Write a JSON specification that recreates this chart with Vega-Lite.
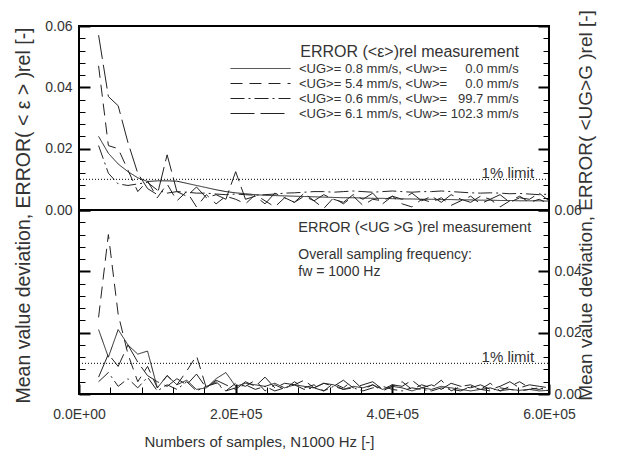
{
  "$schema": "https://vega.github.io/schema/vega-lite/v6.json",
  "padding": {"left": 12, "top": 8, "right": 5, "bottom": 5},
  "background": "white",
  "config": {
    "font": "Liberation Sans",
    "view": {"stroke": "#000", "strokeWidth": 2},
    "axis": {"grid": false, "domain": false, "labelColor": "#333", "titleColor": "#333", "labelFont": "Liberation Sans", "titleFont": "Liberation Sans", "titleFontWeight": "normal", "labelFontSize": 14, "titleFontSize": 19.5, "tickColor": "#000"},
    "text": {"font": "Liberation Sans", "color": "#333"}
  },
  "datasets": {
    "eps": [
      {"n": 25000, "a": 0.024, "b": 0.047, "c": 0.021, "d": 0.057},
      {"n": 37500, "a": 0.0185, "b": 0.021, "c": 0.012, "d": 0.037},
      {"n": 50000, "a": 0.015, "b": 0.02, "c": 0.0085, "d": 0.034},
      {"n": 62500, "a": 0.0125, "b": 0.013, "c": 0.008, "d": 0.022},
      {"n": 75000, "a": 0.0105, "b": 0.006, "c": 0.0085, "d": 0.012},
      {"n": 87500, "a": 0.0093, "b": 0.0095, "c": 0.009, "d": 0.007},
      {"n": 100000, "a": 0.0095, "b": 0.004, "c": 0.0065, "d": 0.005},
      {"n": 112500, "a": 0.0095, "b": 0.0085, "c": 0.0055, "d": 0.018},
      {"n": 125000, "a": 0.0094, "b": 0.003, "c": 0.006, "d": 0.006},
      {"n": 137500, "a": 0.0087, "b": 0.006, "c": 0.0058, "d": 0.0045},
      {"n": 150000, "a": 0.008, "b": 0.001, "c": 0.0055, "d": 0.0075},
      {"n": 162500, "a": 0.0073, "b": 0.005, "c": 0.0055, "d": 0.004},
      {"n": 175000, "a": 0.0066, "b": 0.002, "c": 0.0052, "d": 0.005},
      {"n": 187500, "a": 0.006, "b": 0.0045, "c": 0.005, "d": 0.0035},
      {"n": 200000, "a": 0.0056, "b": 0.0035, "c": 0.0052, "d": 0.0125},
      {"n": 212500, "a": 0.0053, "b": 0.002, "c": 0.005, "d": 0.0035},
      {"n": 225000, "a": 0.005, "b": 0.005, "c": 0.0048, "d": 0.0045},
      {"n": 237500, "a": 0.0048, "b": 0.003, "c": 0.005, "d": 0.002},
      {"n": 250000, "a": 0.0047, "b": 0.001, "c": 0.0052, "d": 0.0055},
      {"n": 262500, "a": 0.0046, "b": 0.004, "c": 0.0055, "d": 0.004},
      {"n": 275000, "a": 0.0045, "b": 0.0025, "c": 0.0056, "d": 0.0025},
      {"n": 287500, "a": 0.0044, "b": 0.0045, "c": 0.0058, "d": 0.0055},
      {"n": 300000, "a": 0.0043, "b": 0.003, "c": 0.006, "d": 0.003},
      {"n": 312500, "a": 0.0042, "b": 0.0005, "c": 0.006, "d": 0.005},
      {"n": 325000, "a": 0.0041, "b": 0.004, "c": 0.0058, "d": 0.0035},
      {"n": 337500, "a": 0.004, "b": 0.002, "c": 0.006, "d": 0.0025},
      {"n": 350000, "a": 0.004, "b": 0.0045, "c": 0.0062, "d": 0.005},
      {"n": 362500, "a": 0.0039, "b": 0.0015, "c": 0.006, "d": 0.0035},
      {"n": 375000, "a": 0.0038, "b": 0.0035, "c": 0.0058, "d": 0.0055},
      {"n": 387500, "a": 0.0038, "b": 0.003, "c": 0.006, "d": 0.002},
      {"n": 400000, "a": 0.0037, "b": 0.0045, "c": 0.0062, "d": 0.0045},
      {"n": 412500, "a": 0.0036, "b": 0.002, "c": 0.006, "d": 0.0035},
      {"n": 425000, "a": 0.0036, "b": 0.001, "c": 0.0058, "d": 0.0055},
      {"n": 437500, "a": 0.0035, "b": 0.0035, "c": 0.006, "d": 0.003},
      {"n": 450000, "a": 0.0035, "b": 0.0025, "c": 0.006, "d": 0.0045},
      {"n": 462500, "a": 0.0034, "b": 0.004, "c": 0.0062, "d": 0.0025},
      {"n": 475000, "a": 0.0034, "b": 0.0015, "c": 0.006, "d": 0.005},
      {"n": 487500, "a": 0.0033, "b": 0.003, "c": 0.0058, "d": 0.0035},
      {"n": 500000, "a": 0.0033, "b": 0.0045, "c": 0.0056, "d": 0.0025},
      {"n": 512500, "a": 0.0032, "b": 0.002, "c": 0.0055, "d": 0.0045},
      {"n": 525000, "a": 0.0032, "b": 0.0035, "c": 0.0056, "d": 0.0035},
      {"n": 537500, "a": 0.0031, "b": 0.001, "c": 0.0055, "d": 0.005},
      {"n": 550000, "a": 0.0031, "b": 0.003, "c": 0.0053, "d": 0.0025},
      {"n": 562500, "a": 0.003, "b": 0.0045, "c": 0.0054, "d": 0.004},
      {"n": 575000, "a": 0.003, "b": 0.0025, "c": 0.0052, "d": 0.0035},
      {"n": 587500, "a": 0.003, "b": 0.0035, "c": 0.005, "d": 0.0055},
      {"n": 600000, "a": 0.0029, "b": 0.002, "c": 0.0052, "d": 0.003}
    ],
    "ug": [
      {"n": 25000, "a": 0.021, "b": 0.025, "c": 0.004, "d": 0.0055},
      {"n": 37500, "a": 0.012, "b": 0.052, "c": 0.007, "d": 0.013},
      {"n": 50000, "a": 0.021, "b": 0.026, "c": 0.0025, "d": 0.009},
      {"n": 62500, "a": 0.016, "b": 0.013, "c": 0.005, "d": 0.016},
      {"n": 75000, "a": 0.013, "b": 0.004, "c": 0.002, "d": 0.0104},
      {"n": 87500, "a": 0.014, "b": 0.009, "c": 0.0055, "d": 0.006},
      {"n": 100000, "a": 0.002, "b": 0.002, "c": 0.001, "d": 0.004},
      {"n": 112500, "a": 0.006, "b": 0.006, "c": 0.003, "d": 0.0025},
      {"n": 125000, "a": 0.003, "b": 0.003, "c": 0.0015, "d": 0.005},
      {"n": 137500, "a": 0.0045, "b": 0.0075, "c": 0.004, "d": 0.003},
      {"n": 150000, "a": 0.0015, "b": 0.0125, "c": 0.001, "d": 0.0065},
      {"n": 162500, "a": 0.002, "b": 0.002, "c": 0.0025, "d": 0.002},
      {"n": 175000, "a": 0.005, "b": 0.004, "c": 0.0035, "d": 0.0045},
      {"n": 187500, "a": 0.007, "b": 0.001, "c": 0.001, "d": 0.003},
      {"n": 200000, "a": 0.0025, "b": 0.0035, "c": 0.002, "d": 0.0015},
      {"n": 212500, "a": 0.0035, "b": 0.0025, "c": 0.003, "d": 0.004},
      {"n": 225000, "a": 0.003, "b": 0.0045, "c": 0.0015, "d": 0.0025},
      {"n": 237500, "a": 0.0025, "b": 0.001, "c": 0.0025, "d": 0.0055},
      {"n": 250000, "a": 0.0035, "b": 0.003, "c": 0.001, "d": 0.002},
      {"n": 262500, "a": 0.002, "b": 0.0015, "c": 0.002, "d": 0.0035},
      {"n": 275000, "a": 0.003, "b": 0.004, "c": 0.003, "d": 0.003},
      {"n": 287500, "a": 0.0025, "b": 0.002, "c": 0.0015, "d": 0.0045},
      {"n": 300000, "a": 0.002, "b": 0.003, "c": 0.002, "d": 0.002},
      {"n": 312500, "a": 0.0035, "b": 0.001, "c": 0.001, "d": 0.0035},
      {"n": 325000, "a": 0.003, "b": 0.0035, "c": 0.0025, "d": 0.0025},
      {"n": 337500, "a": 0.0015, "b": 0.002, "c": 0.0015, "d": 0.0045},
      {"n": 350000, "a": 0.0025, "b": 0.0045, "c": 0.002, "d": 0.002},
      {"n": 362500, "a": 0.002, "b": 0.0015, "c": 0.001, "d": 0.003},
      {"n": 375000, "a": 0.003, "b": 0.003, "c": 0.002, "d": 0.004},
      {"n": 387500, "a": 0.0015, "b": 0.001, "c": 0.0025, "d": 0.0015},
      {"n": 400000, "a": 0.0025, "b": 0.0025, "c": 0.0015, "d": 0.003},
      {"n": 412500, "a": 0.002, "b": 0.004, "c": 0.001, "d": 0.0025},
      {"n": 425000, "a": 0.001, "b": 0.0015, "c": 0.002, "d": 0.0045},
      {"n": 437500, "a": 0.002, "b": 0.003, "c": 0.0015, "d": 0.002},
      {"n": 450000, "a": 0.0015, "b": 0.002, "c": 0.001, "d": 0.003},
      {"n": 462500, "a": 0.0025, "b": 0.0045, "c": 0.002, "d": 0.0015},
      {"n": 475000, "a": 0.002, "b": 0.001, "c": 0.0015, "d": 0.0035},
      {"n": 487500, "a": 0.0015, "b": 0.0025, "c": 0.001, "d": 0.0025},
      {"n": 500000, "a": 0.001, "b": 0.003, "c": 0.0025, "d": 0.002},
      {"n": 512500, "a": 0.0015, "b": 0.0015, "c": 0.0015, "d": 0.003},
      {"n": 525000, "a": 0.002, "b": 0.0035, "c": 0.001, "d": 0.0015},
      {"n": 537500, "a": 0.001, "b": 0.001, "c": 0.002, "d": 0.0025},
      {"n": 550000, "a": 0.0015, "b": 0.0025, "c": 0.0015, "d": 0.004},
      {"n": 562500, "a": 0.0012, "b": 0.004, "c": 0.001, "d": 0.002},
      {"n": 575000, "a": 0.0015, "b": 0.002, "c": 0.0015, "d": 0.003},
      {"n": 587500, "a": 0.001, "b": 0.0015, "c": 0.002, "d": 0.0025},
      {"n": 600000, "a": 0.0012, "b": 0.0025, "c": 0.001, "d": 0.002}
    ]
  },
  "spacing": 0,
  "bounds": "flush",
  "resolve": {"legend": {"strokeDash": "independent"}},
  "vconcat": [
    {
      "width": 470,
      "height": 184,
      "resolve": {"axis": {"y": "independent", "x": "independent"}},
      "layer": [
        {
          "data": {"name": "eps"},
          "transform": [{"fold": ["a", "b", "c", "d"], "as": ["s", "v"]}],
          "mark": {"type": "line", "color": "#222", "strokeWidth": 1},
          "encoding": {
            "x": {"field": "n", "type": "quantitative", "scale": {"domain": [0, 600000], "nice": false, "zero": false}, "axis": null},
            "y": {"field": "v", "type": "quantitative", "scale": {"domain": [0, 0.06], "nice": false},
              "axis": {"orient": "left", "values": [0, 0.02, 0.04, 0.06], "format": ".2f", "ticks": false, "labelPadding": 7,
                "title": "Mean value deviation, ERROR( < ε > )rel [-]", "titlePadding": 11, "titleY": 189}},
            "strokeDash": {"field": "s", "type": "nominal",
              "scale": {"domain": ["a", "b", "c", "d"], "range": [[1, 0], [12, 7], [14, 4, 2, 4], [24, 6]]},
              "legend": {"orient": "none", "legendX": 175, "legendY": 18,
                "title": "ERROR (<ε>)rel measurement", "titleAnchor": "end", "titleFontSize": 16, "titleFontWeight": "normal", "titleColor": "#333", "titlePadding": 2, "titleLimit": 400,
                "symbolType": "M-5,0H5", "symbolSize": 144, "symbolStrokeWidth": 1, "symbolStrokeColor": "#222",
                "labelFontSize": 13, "labelColor": "#333", "labelOffset": 32, "labelLimit": 400, "rowPadding": 1,
                "labelExpr": "datum.label == 'a' ? '<UG>= 0.8 mm/s, <Uw>= \u2007\u20070.0 mm/s' : datum.label == 'b' ? '<UG>= 5.4 mm/s, <Uw>= \u2007\u20070.0 mm/s' : datum.label == 'c' ? '<UG>= 0.6 mm/s, <Uw>= \u200799.7 mm/s' : '<UG>= 6.1 mm/s, <Uw>= 102.3 mm/s'"}}
          }
        },
        {
          "data": {"values": [{}]},
          "mark": {"type": "rule", "color": "#000", "strokeWidth": 1, "strokeDash": [1, 2]},
          "encoding": {
            "y": {"datum": 0.01, "type": "quantitative", "scale": {"domain": [0, 0.06], "nice": false},
              "axis": {"orient": "left", "values": [0, 0.02, 0.04, 0.06], "labels": false, "ticks": true, "tickSize": -11, "tickWidth": 2, "title": null}}
          }
        },
        {
          "data": {"values": [{}]},
          "mark": {"type": "text", "text": "1% limit", "align": "right", "baseline": "alphabetic", "dy": -1, "fontSize": 15},
          "encoding": {
            "x": {"datum": 581000, "type": "quantitative", "axis": null},
            "y": {"datum": 0.01, "type": "quantitative",
              "axis": {"orient": "left", "values": [0.004, 0.008, 0.012, 0.016, 0.024, 0.028, 0.032, 0.036, 0.044, 0.048, 0.052, 0.056], "labels": false, "ticks": true, "tickSize": -6, "tickWidth": 1, "title": null}}
          }
        },
        {
          "data": {"values": [{}]},
          "mark": {"type": "rule", "color": "#000", "strokeWidth": 2},
          "encoding": {
            "y": {"datum": 0.06, "type": "quantitative",
              "axis": {"orient": "right", "values": [0, 0.02, 0.04, 0.06], "labels": false, "ticks": true, "tickSize": -11, "tickWidth": 2, "title": null}}
          }
        },
        {
          "data": {"values": [{}]},
          "mark": {"type": "rule", "color": "#000", "strokeWidth": 2},
          "encoding": {
            "y": {"datum": 0, "type": "quantitative",
              "axis": {"orient": "right", "values": [0.004, 0.008, 0.012, 0.016, 0.024, 0.028, 0.032, 0.036, 0.044, 0.048, 0.052, 0.056], "labels": false, "ticks": true, "tickSize": -6, "tickWidth": 1, "title": null}}
          }
        }
      ]
    },
    {
      "width": 470,
      "height": 184,
      "resolve": {"axis": {"y": "independent", "x": "independent"}},
      "layer": [
        {
          "data": {"name": "ug"},
          "transform": [{"fold": ["a", "b", "c", "d"], "as": ["s", "v"]}],
          "mark": {"type": "line", "color": "#222", "strokeWidth": 1},
          "encoding": {
            "x": {"field": "n", "type": "quantitative", "scale": {"domain": [0, 600000], "nice": false, "zero": false},
              "axis": {"orient": "bottom", "values": [0, 200000, 400000, 600000], "ticks": false, "labelPadding": 13, "labelFlush": false, "labelOverlap": false,
                "labelExpr": "datum.value == 0 ? '0.0E+00' : format(datum.value / 100000, '.1f') + 'E+05'",
                "title": "Numbers of samples, N1000 Hz [-]", "titleFontSize": 15, "titlePadding": 13, "titleX": 180}},
            "y": {"field": "v", "type": "quantitative", "scale": {"domain": [0, 0.06], "nice": false},
              "axis": {"orient": "right", "values": [0, 0.02, 0.04, 0.06], "format": ".2f", "ticks": false, "labelPadding": 5,
                "title": "Mean value deviation, ERROR( <UG>G )rel [-]", "titleFontSize": 19, "titlePadding": 14, "titleY": -5, "titleAngle": -90}},
            "strokeDash": {"field": "s", "type": "nominal",
              "scale": {"domain": ["a", "b", "c", "d"], "range": [[1, 0], [12, 7], [14, 4, 2, 4], [24, 6]]},
              "legend": null}
          }
        },
        {
          "data": {"values": [{}]},
          "mark": {"type": "rule", "color": "#000", "strokeWidth": 1, "strokeDash": [1, 2]},
          "encoding": {
            "x": {"datum": 0, "type": "quantitative",
              "axis": {"orient": "bottom", "values": [0, 200000, 400000, 600000], "labels": false, "ticks": true, "tickSize": -10, "tickWidth": 2, "title": null}},
            "x2": {"datum": 600000},
            "y": {"datum": 0.01, "type": "quantitative", "scale": {"domain": [0, 0.06], "nice": false},
              "axis": {"orient": "left", "values": [0, 0.02, 0.04, 0.06], "labels": false, "ticks": true, "tickSize": -11, "tickWidth": 2, "title": null}}
          }
        },
        {
          "data": {"values": [{}]},
          "mark": {"type": "text", "text": "1% limit", "align": "right", "baseline": "alphabetic", "dy": -1, "fontSize": 15},
          "encoding": {
            "x": {"datum": 581000, "type": "quantitative",
              "axis": {"orient": "bottom", "values": [40000, 80000, 120000, 160000, 240000, 280000, 320000, 360000, 440000, 480000, 520000, 560000], "labels": false, "ticks": true, "tickSize": -7, "tickWidth": 1, "title": null}},
            "y": {"datum": 0.01, "type": "quantitative",
              "axis": {"orient": "left", "values": [0.004, 0.008, 0.012, 0.016, 0.024, 0.028, 0.032, 0.036, 0.044, 0.048, 0.052, 0.056], "labels": false, "ticks": true, "tickSize": -6, "tickWidth": 1, "title": null}}
          }
        },
        {
          "data": {"values": [{}]},
          "mark": {"type": "text", "text": "ERROR (<UG >G )rel measurement", "align": "left", "baseline": "alphabetic", "fontSize": 14.5},
          "encoding": {
            "x": {"datum": 280000, "type": "quantitative", "axis": null},
            "y": {"datum": 0.0528, "type": "quantitative",
              "axis": {"orient": "right", "values": [0, 0.02, 0.04, 0.06], "labels": false, "ticks": true, "tickSize": -11, "tickWidth": 2, "title": null}}
          }
        },
        {
          "data": {"values": [{}]},
          "mark": {"type": "text", "text": "Overall sampling frequency:", "align": "left", "baseline": "alphabetic", "fontSize": 14},
          "encoding": {
            "x": {"datum": 280000, "type": "quantitative", "axis": null},
            "y": {"datum": 0.044, "type": "quantitative",
              "axis": {"orient": "right", "values": [0.004, 0.008, 0.012, 0.016, 0.024, 0.028, 0.032, 0.036, 0.044, 0.048, 0.052, 0.056], "labels": false, "ticks": true, "tickSize": -6, "tickWidth": 1, "title": null}}
          }
        },
        {
          "data": {"values": [{}]},
          "mark": {"type": "text", "text": "fw = 1000 Hz", "align": "left", "baseline": "alphabetic", "fontSize": 14},
          "encoding": {
            "x": {"datum": 280000, "type": "quantitative", "axis": null},
            "y": {"datum": 0.0385, "type": "quantitative", "axis": null}
          }
        }
      ]
    }
  ]
}
